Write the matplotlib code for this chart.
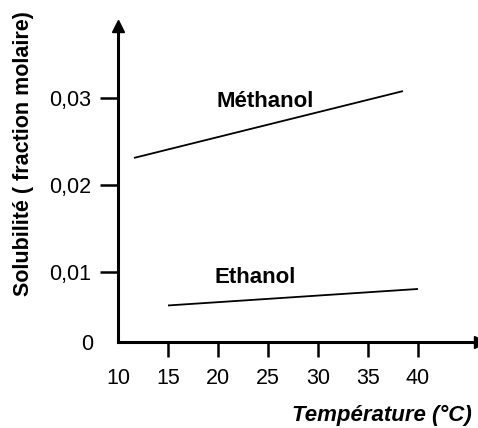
import matplotlib
matplotlib.use("Agg")
import matplotlib.pyplot as plt

plt.rcParams['font.family'] = ['Liberation Sans', 'DejaVu Sans']

# Data
methanol_temp = [11.6, 38.5]
methanol_sol = [0.0231, 0.0308]
ethanol_temp = [15, 40]
ethanol_sol = [0.0061, 0.0080]

xticks = [15, 20, 25, 30, 35, 40]
xticklabels = ["15", "20", "25", "30", "35", "40"]
yticks = [0.01, 0.02, 0.03]
yticklabels = ["0,01", "0,02", "0,03"]

W, H = 478, 428
fig = plt.figure(figsize=(W / 100, H / 100), dpi=100)
ax_left, ax_bottom_px, ax_right, ax_top = 118, 342, 480, 26
ax = fig.add_axes([ax_left / W, (H - ax_bottom_px) / H,
                   (ax_right - ax_left) / W, (ax_bottom_px - ax_top) / H])

y0 = 0.00189
ax.set_xlim(10, 46.2)
ax.set_ylim(y0, 0.0383)

ax.plot(methanol_temp, methanol_sol, color='black', lw=1.3, solid_capstyle='butt')
ax.plot(ethanol_temp, ethanol_sol, color='black', lw=1.3, solid_capstyle='butt')

for s in ['top', 'right']:
    ax.spines[s].set_visible(False)
for s in ['left', 'bottom']:
    ax.spines[s].set_linewidth(2.2)

# arrow heads
ax.plot([0], [1], marker='^', color='black', markersize=8, transform=ax.transAxes, clip_on=False)
ax.plot([1], [0], marker='>', color='black', markersize=8, transform=ax.transAxes, clip_on=False)

ax.set_xticks(xticks)
ax.set_xticklabels(xticklabels)
ax.set_xticks([10], minor=True)
ax.set_xticklabels(["10"], minor=True)
ax.set_yticks(yticks)
ax.set_yticklabels(yticklabels)
ax.set_yticks([y0], minor=True)
ax.set_yticklabels(["0"], minor=True)

fs_tick = 15.5
ax.tick_params(axis='x', which='major', direction='out', length=11, width=1.8, pad=7.5, labelsize=fs_tick)
ax.tick_params(axis='x', which='minor', length=0, pad=18.5, labelsize=fs_tick)
ax.tick_params(axis='y', which='major', direction='out', length=13, width=1.8, pad=6, labelsize=fs_tick)
ax.tick_params(axis='y', which='minor', length=0, pad=17.5, labelsize=fs_tick)

ax.text(19.8, 0.0290, "Méthanol", fontsize=16, fontweight='bold', ha='left', va='baseline')
ax.text(19.7, 0.00866, "Ethanol", fontsize=16, fontweight='bold', ha='left', va='baseline')

fig.text(24 / W, 1 - 154 / H, "Solubilité ( fraction molaire)", rotation=90,
         fontsize=15.5, fontweight='bold', ha='center', va='center')
fig.text(382 / W, 1 - 415 / H, "Température (°C)", fontsize=16,
         fontweight='bold', fontstyle='italic', ha='center', va='center')

fig.savefig("out.png", dpi=100)
